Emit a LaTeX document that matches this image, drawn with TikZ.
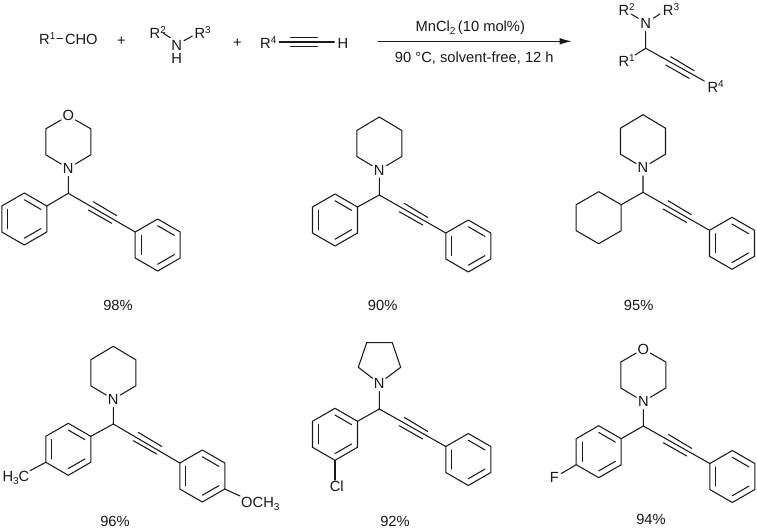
\documentclass[tikz,border=0pt]{standalone}
\usepackage{fontspec}
\setmainfont{Liberation Sans}
\usetikzlibrary{calc,arrows.meta}
\newcommand{\chemsup}[1]{\raisebox{5.2pt}{\fontsize{10}{10}\selectfont #1}}
\newcommand{\chemsub}[1]{\raisebox{-3pt}{\fontsize{10}{10}\selectfont #1}}
% hexagon corners: 1 top, 2 upper right, 3 lower right, 4 bottom, 5 lower left, 6 upper left
\newcommand{\corners}[3]{%
  \coordinate (#1c) at (#2,#3);
  \coordinate (#12) at ({#2+22.5},{#3-13});
  \coordinate (#13) at ({#2+22.5},{#3+13});
  \coordinate (#15) at ({#2-22.5},{#3+13});
  \coordinate (#16) at ({#2-22.5},{#3-13});}
\newcommand{\innerbond}[3]{\draw[bond] ($(#1)!.26!(#3)$) -- ($(#2)!.26!(#3)$);}
\newcommand{\arene}[3]{%
  \corners{#1}{#2}{#3}
  \coordinate (#11) at (#2,{#3-26});
  \coordinate (#14) at (#2,{#3+26});
  \draw[bond,line join=round] (#11) -- (#12) -- (#13) -- (#14) -- (#15) -- (#16) -- cycle;
  \innerbond{#11}{#12}{#1c}
  \innerbond{#13}{#14}{#1c}
  \innerbond{#15}{#16}{#1c}}
\newcommand{\cyclohexane}[3]{%
  \corners{#1}{#2}{#3}
  \coordinate (#11) at (#2,{#3-26});
  \coordinate (#14) at (#2,{#3+26});
  \draw[bond,line join=round] (#11) -- (#12) -- (#13) -- (#14) -- (#15) -- (#16) -- cycle;}
\newcommand{\piperidine}[3]{%
  \corners{#1}{#2}{#3}
  \coordinate (#11) at (#2,{#3-26.5});
  \node[atom] (#14) at (#2,{#3+26.5}) {N};
  \draw[bond] (#14) -- (#13) -- (#12) -- (#11) -- (#16) -- (#15) -- (#14);}
\newcommand{\morpholine}[3]{%
  \corners{#1}{#2}{#3}
  \node[atom] (#11) at (#2,{#3-26}) {O};
  \node[atom] (#14) at (#2,{#3+26.5}) {N};
  \draw[bond] (#14) -- (#13) -- (#12) -- (#11) -- (#16) -- (#15) -- (#14);}
\newcommand{\alkyne}[2]{%
  \draw[bond] (#1) -- (#2);
  \draw[bond] ($(#1)+(25,8.4)$) -- ($(#1)+(48.4,22.4)$);
  \draw[bond] ($(#1)+(20,16.7)$) -- ($(#1)+(43.4,30)$);}
\tikzset{
  bond/.style={line width=1.05pt,line cap=round,draw=black!90},
  atom/.style={circle,inner sep=0pt,minimum size=16pt,text=black!90},
  lbl/.style={inner sep=0pt,anchor=base west,text=black!90},
  ctr/.style={inner sep=0pt,text=black!90},
  every node/.append style={font=\fontsize{14.7}{17}\selectfont}
}
\begin{document}
\begin{tikzpicture}[x=1pt,y=-1pt]
\useasboundingbox (0,0) rectangle (757,529);
\fill[white] (0,0) rectangle (757,529);

% ---------- reaction scheme ----------
\node[lbl] (r1cho) at (39,45) {R\chemsup{1}};
\coordinate (r1d) at (56.8,38.3); \coordinate (r1e) at (62.3,38.3);
\draw[bond] (r1d) -- (r1e);
\node[lbl] (cho) at (64.8,45) {CHO};
\node[ctr] (plusa) at (121.3,41) {+};
\node[lbl] (amr2) at (149.5,38.4) {R\chemsup{2}};
\node[lbl] (amr3) at (194.3,38.4) {R\chemsup{3}};
\node[ctr,minimum size=0pt] (amn) at (176.7,45.6) {N};
\node[ctr] (amh) at (176.7,58.3) {H};
\coordinate (amb1) at (163.3,33.2); \coordinate (amb2) at (170.3,37.7);
\coordinate (amb3) at (184,40.7); \coordinate (amb4) at (192.3,36);
\draw[bond] (amb1) -- (amb2);
\draw[bond] (amb3) -- (amb4);
\node[ctr] (plusb) at (237.3,43.3) {+};
\node[lbl] (yr4) at (260,48.3) {R\chemsup{4}};
\node[lbl] (yh) at (337.5,48.3) {H};
\coordinate (yl) at (279.3,42); \coordinate (yr) at (334.3,42);
\coordinate (yua) at (290.7,37.8); \coordinate (yub) at (317.3,37.8);
\coordinate (yla) at (290.7,46.6); \coordinate (ylb) at (317.3,46.6);
\draw[bond] (yl) -- (yr);
\draw[bond] (yua) -- (yub);
\draw[bond] (yla) -- (ylb);

\coordinate (arrowa) at (378.3,41.3); \coordinate (arrowb) at (571.7,41.3);
\draw[bond,line cap=butt,-{Latex[length=12pt,width=6.5pt]}] (arrowa) -- (arrowb);
\node[ctr,anchor=base] (catalyst) at (470.3,31.7) {MnCl\chemsub{2}\,(10 mol\%)};
\node[ctr,anchor=base] (cond) at (474.3,62.3) {90 °C, solvent-free, 12 h};

\node[lbl] (pr2) at (618.3,15.7) {R\chemsup{2}};
\node[lbl] (pr3) at (662.7,15.7) {R\chemsup{3}};
\node[atom] (pn) at (645.7,23.3) {N};
\coordinate (pc) at (645.7,48.3);
\node[lbl] (pr1) at (618.3,66.7) {R\chemsup{1}};
\node[lbl] (pr4) at (707.3,92.7) {R\chemsup{4}};
\coordinate (pb1) at (631,14); \coordinate (pb2) at (638.3,18.3);
\coordinate (pb3) at (653.3,18.3); \coordinate (pb4) at (660,14);
\coordinate (pb5) at (635,55); \coordinate (pe) at (704.3,81);
\draw[bond] (pb1) -- (pb2);
\draw[bond] (pb3) -- (pb4);
\draw[bond] (pn) -- (pc) -- (pb5);
\alkyne{pc}{pe}

% ---------- 98% ----------
\morpholine{am}{68.3}{141.8}
\coordinate (ac) at (68.3,193.3);
\arene{al}{24.3}{219}
\arene{ar}{157.7}{245}
\draw[bond] (am4) -- (ac) -- (al2);
\alkyne{ac}{ar6}
\node[ctr] (ya) at (118,305) {98\%};

% ---------- 90% ----------
\piperidine{bm}{379.3}{143.5}
\coordinate (bc) at (379.3,195);
\arene{bl}{335}{220}
\arene{br}{468.3}{246}
\draw[bond] (bm4) -- (bc) -- (bl2);
\alkyne{bc}{br6}
\node[ctr] (yb) at (382.7,305) {90\%};

% ---------- 95% ----------
\piperidine{cm}{643}{141.2}
\coordinate (cc) at (643,192.3);
\cyclohexane{cl}{598.7}{217.7}
\arene{cr}{732}{243.3}
\draw[bond] (cm4) -- (cc) -- (cl2);
\alkyne{cc}{cr6}
\node[ctr] (yc) at (638.7,305) {95\%};

% ---------- 96% ----------
\piperidine{dm}{113.3}{372.8}
\coordinate (dc) at (113.3,424);
\arene{dl}{68.3}{449.3}
\arene{dr}{202.3}{476}
\draw[bond] (dm4) -- (dc) -- (dl2);
\alkyne{dc}{dr6}
\node[lbl] (dme) at (2.3,481) {H\chemsub{3}C};
\coordinate (dmeb) at (30,470.7);
\draw[bond] (dl5) -- (dmeb);
\node[lbl] (dome) at (241,507) {OCH\chemsub{3}};
\coordinate (domeb) at (240,496);
\draw[bond] (dr3) -- (domeb);
\node[ctr] (yd) at (115,521) {96\%};

% ---------- 92% ----------
\coordinate (ec) at (379.3,409);
\node[atom] (en) at (379.3,383.3) {N};
\coordinate (ep1) at (358.3,367.3); \coordinate (ep2) at (366.7,342.7);
\coordinate (ep3) at (392.3,342.7); \coordinate (ep4) at (400.7,367.3);
\draw[bond] (en) -- (ep1) -- (ep2) -- (ep3) -- (ep4) -- (en);
\arene{el}{335}{434.3}
\arene{er}{468.3}{459.5}
\draw[bond] (en) -- (ec) -- (el2);
\alkyne{ec}{er6}
\node[ctr,inner ysep=0.3pt] (ecl) at (336.7,486) {Cl};
\draw[bond] (el4) -- (ecl.north -| el4);
\node[ctr] (ye) at (395,521.5) {92\%};

% ---------- 94% ----------
\morpholine{fm}{643.3}{375}
\coordinate (fc) at (643.3,426);
\arene{fl}{598.7}{451.7}
\arene{fr}{732.3}{476.5}
\draw[bond] (fm4) -- (fc) -- (fl2);
\alkyne{fc}{fr6}
\node[atom] (ff) at (554.3,477.7) {F};
\draw[bond] (fl5) -- (ff);
\node[ctr] (yf) at (651,519) {94\%};
\end{tikzpicture}
\end{document}
